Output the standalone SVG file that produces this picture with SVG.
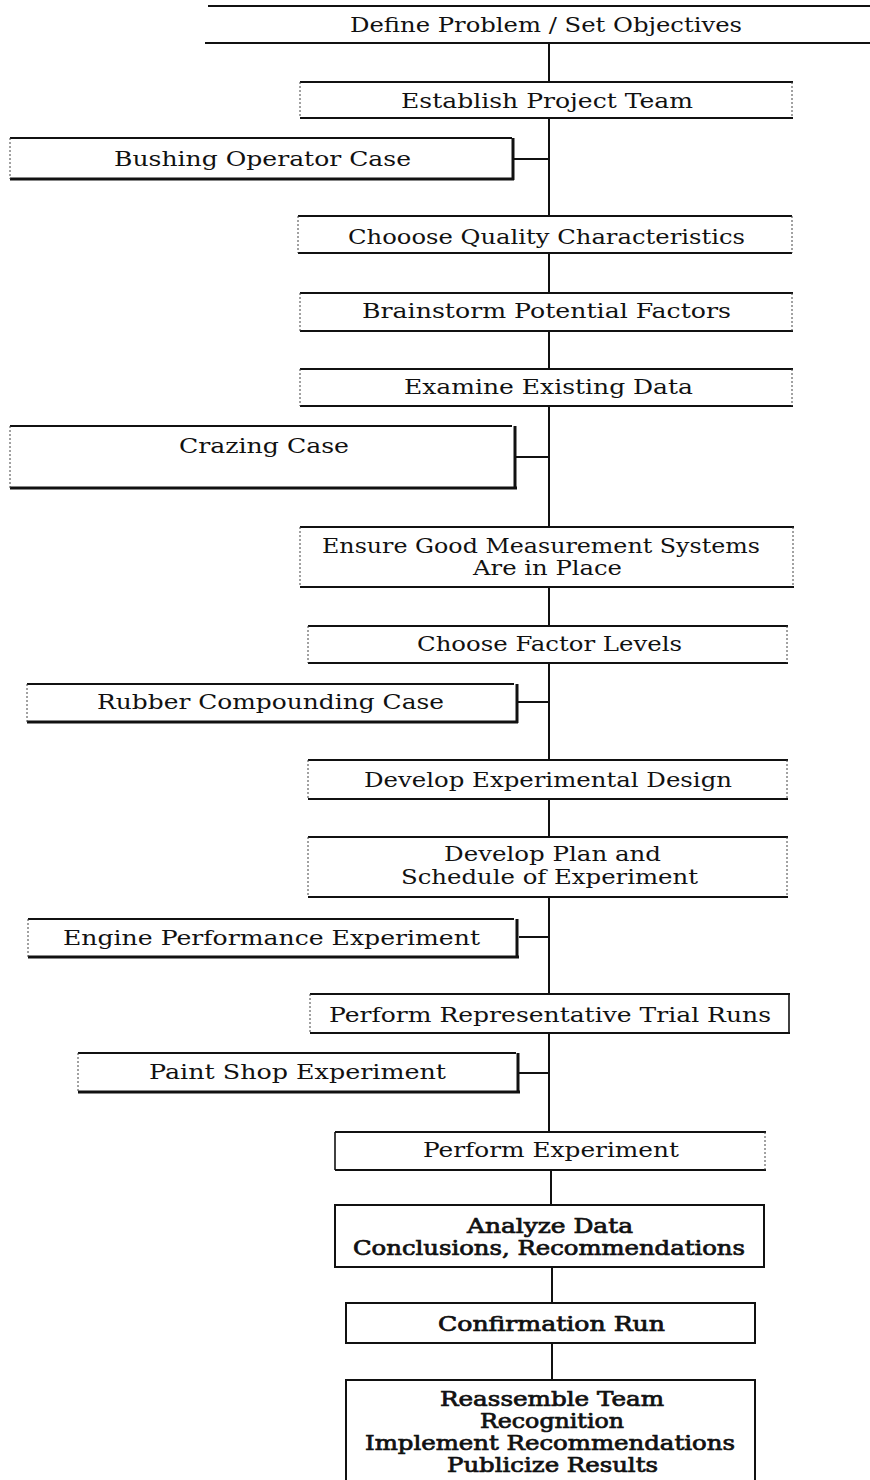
<svg xmlns="http://www.w3.org/2000/svg" width="870" height="1480" viewBox="0 0 870 1480">
<style>
.t{font-family:"DejaVu Serif","Liberation Serif",serif;font-size:19.5px;fill:#111}
.b{stroke:#111;stroke-width:0.7}
.h{stroke:#111;stroke-width:2;fill:none}
.hk{stroke:#111;stroke-width:3;fill:none}
.s{stroke:#444;stroke-width:1;stroke-dasharray:2 2;fill:none}
.ss{stroke:#111;stroke-width:1.6;fill:none}
.c{stroke:#111;stroke-width:2;fill:none}
</style>
<rect width="870" height="1480" fill="#fff"/>

<g id="connectors">
<line class="c" x1="549" y1="43" x2="549" y2="82"/>
<line class="c" x1="549" y1="118" x2="549" y2="216"/>
<line class="c" x1="513" y1="159" x2="549" y2="159"/>
<line class="c" x1="549" y1="253" x2="549" y2="293"/>
<line class="c" x1="549" y1="331" x2="549" y2="369"/>
<line class="c" x1="549" y1="406" x2="549" y2="527"/>
<line class="c" x1="516" y1="457" x2="549" y2="457"/>
<line class="c" x1="549" y1="587" x2="549" y2="626"/>
<line class="c" x1="549" y1="663" x2="549" y2="760"/>
<line class="c" x1="518" y1="702" x2="549" y2="702"/>
<line class="c" x1="549" y1="799" x2="549" y2="837"/>
<line class="c" x1="549" y1="897" x2="549" y2="994"/>
<line class="c" x1="519" y1="937" x2="549" y2="937"/>
<line class="c" x1="549" y1="1033" x2="549" y2="1132"/>
<line class="c" x1="519" y1="1073" x2="549" y2="1073"/>
<line class="c" x1="551" y1="1170" x2="551" y2="1205"/>
<line class="c" x1="552" y1="1267" x2="552" y2="1303"/>
<line class="c" x1="552" y1="1343" x2="552" y2="1380"/>
</g>

<g id="define">
<line class="h" x1="208" y1="6" x2="870" y2="6"/>
<line class="h" x1="205" y1="43" x2="870" y2="43"/>
<text class="t" x="350" y="32" textLength="392" lengthAdjust="spacingAndGlyphs">Define Problem / Set Objectives</text>
</g>

<g id="establish">
<line class="h" x1="300" y1="82" x2="793" y2="82"/>
<line class="h" x1="300" y1="118" x2="793" y2="118"/>
<line class="s" x1="300" y1="82" x2="300" y2="118"/>
<line class="s" x1="792" y1="82" x2="792" y2="118"/>
<text class="t" x="401" y="108" textLength="292" lengthAdjust="spacingAndGlyphs">Establish Project Team</text>
</g>

<g id="bushing">
<line class="h" x1="10" y1="138" x2="512" y2="138"/>
<line class="hk" x1="10" y1="179" x2="514" y2="179"/>
<line class="hk" x1="513" y1="138" x2="513" y2="180"/>
<line class="s" x1="10" y1="138" x2="10" y2="179"/>
<text class="t" x="114" y="166" textLength="297" lengthAdjust="spacingAndGlyphs">Bushing Operator Case</text>
</g>

<g id="quality">
<line class="h" x1="298" y1="216" x2="792" y2="216"/>
<line class="h" x1="298" y1="253" x2="792" y2="253"/>
<line class="s" x1="298" y1="216" x2="298" y2="253"/>
<line class="s" x1="792" y1="216" x2="792" y2="253"/>
<text class="t" x="348" y="244" textLength="397" lengthAdjust="spacingAndGlyphs">Chooose Quality Characteristics</text>
</g>

<g id="brainstorm">
<line class="h" x1="300" y1="293" x2="793" y2="293"/>
<line class="h" x1="300" y1="331" x2="793" y2="331"/>
<line class="s" x1="300" y1="293" x2="300" y2="331"/>
<line class="s" x1="792" y1="293" x2="792" y2="331"/>
<text class="t" x="362" y="318" textLength="369" lengthAdjust="spacingAndGlyphs">Brainstorm Potential Factors</text>
</g>

<g id="examine">
<line class="h" x1="300" y1="369" x2="793" y2="369"/>
<line class="h" x1="300" y1="406" x2="793" y2="406"/>
<line class="s" x1="300" y1="369" x2="300" y2="406"/>
<line class="s" x1="792" y1="369" x2="792" y2="406"/>
<text class="t" x="404" y="394" textLength="289" lengthAdjust="spacingAndGlyphs">Examine Existing Data</text>
</g>

<g id="crazing">
<line class="h" x1="10" y1="426" x2="512" y2="426"/>
<line class="hk" x1="10" y1="488" x2="517" y2="488"/>
<line class="hk" x1="515" y1="426" x2="515" y2="489"/>
<line class="s" x1="10" y1="426" x2="10" y2="488"/>
<text class="t" x="179" y="453" textLength="170" lengthAdjust="spacingAndGlyphs">Crazing Case</text>
</g>

<g id="ensure">
<line class="h" x1="300" y1="527" x2="794" y2="527"/>
<line class="h" x1="300" y1="587" x2="794" y2="587"/>
<line class="s" x1="300" y1="527" x2="300" y2="587"/>
<line class="s" x1="793" y1="527" x2="793" y2="587"/>
<text class="t" x="322" y="553" textLength="438" lengthAdjust="spacingAndGlyphs">Ensure Good Measurement Systems</text>
<text class="t" x="473" y="575" textLength="149" lengthAdjust="spacingAndGlyphs">Are in Place</text>
</g>

<g id="factor">
<line class="h" x1="308" y1="626" x2="788" y2="626"/>
<line class="h" x1="308" y1="663" x2="788" y2="663"/>
<line class="s" x1="308" y1="626" x2="308" y2="663"/>
<line class="s" x1="787" y1="626" x2="787" y2="663"/>
<text class="t" x="417" y="651" textLength="265" lengthAdjust="spacingAndGlyphs">Choose Factor Levels</text>
</g>

<g id="rubber">
<line class="h" x1="27" y1="684" x2="514" y2="684"/>
<line class="hk" x1="27" y1="722" x2="518" y2="722"/>
<line class="hk" x1="517" y1="684" x2="517" y2="723"/>
<line class="s" x1="27" y1="684" x2="27" y2="722"/>
<text class="t" x="97" y="709" textLength="347" lengthAdjust="spacingAndGlyphs">Rubber Compounding Case</text>
</g>

<g id="design">
<line class="h" x1="308" y1="760" x2="788" y2="760"/>
<line class="h" x1="308" y1="799" x2="788" y2="799"/>
<line class="s" x1="308" y1="760" x2="308" y2="799"/>
<line class="s" x1="787" y1="760" x2="787" y2="799"/>
<text class="t" x="364" y="787" textLength="368" lengthAdjust="spacingAndGlyphs">Develop Experimental Design</text>
</g>

<g id="plan">
<line class="h" x1="308" y1="837" x2="788" y2="837"/>
<line class="h" x1="308" y1="897" x2="788" y2="897"/>
<line class="s" x1="308" y1="837" x2="308" y2="897"/>
<line class="s" x1="787" y1="837" x2="787" y2="897"/>
<text class="t" x="444" y="861" textLength="217" lengthAdjust="spacingAndGlyphs">Develop Plan and</text>
<text class="t" x="401" y="884" textLength="297" lengthAdjust="spacingAndGlyphs">Schedule of Experiment</text>
</g>

<g id="engine">
<line class="h" x1="28" y1="919" x2="514" y2="919"/>
<line class="hk" x1="28" y1="957" x2="519" y2="957"/>
<line class="hk" x1="517" y1="919" x2="517" y2="958"/>
<line class="s" x1="28" y1="919" x2="28" y2="957"/>
<text class="t" x="63" y="945" textLength="417" lengthAdjust="spacingAndGlyphs">Engine Performance Experiment</text>
</g>

<g id="trial">
<line class="h" x1="310" y1="994" x2="790" y2="994"/>
<line class="h" x1="310" y1="1033" x2="790" y2="1033"/>
<line class="s" x1="310" y1="994" x2="310" y2="1033"/>
<line class="ss" x1="789" y1="994" x2="789" y2="1033"/>
<text class="t" x="329" y="1022" textLength="442" lengthAdjust="spacingAndGlyphs">Perform Representative Trial Runs</text>
</g>

<g id="paint">
<line class="h" x1="78" y1="1053" x2="516" y2="1053"/>
<line class="hk" x1="78" y1="1092" x2="520" y2="1092"/>
<line class="hk" x1="518" y1="1053" x2="518" y2="1093"/>
<line class="s" x1="78" y1="1053" x2="78" y2="1092"/>
<text class="t" x="149" y="1079" textLength="297" lengthAdjust="spacingAndGlyphs">Paint Shop Experiment</text>
</g>

<g id="perform">
<line class="h" x1="335" y1="1132" x2="766" y2="1132"/>
<line class="h" x1="335" y1="1170" x2="766" y2="1170"/>
<line class="ss" x1="335" y1="1132" x2="335" y2="1170"/>
<line class="s" x1="765" y1="1132" x2="765" y2="1170"/>
<text class="t" x="423" y="1157" textLength="256" lengthAdjust="spacingAndGlyphs">Perform Experiment</text>
</g>

<g id="analyze">
<rect class="h" x="335" y="1205" width="429" height="62"/>
<text class="t b" x="467" y="1233" textLength="166" lengthAdjust="spacingAndGlyphs">Analyze Data</text>
<text class="t b" x="353" y="1255" textLength="392" lengthAdjust="spacingAndGlyphs">Conclusions, Recommendations</text>
</g>

<g id="confirm">
<rect class="h" x="346" y="1303" width="409" height="40"/>
<text class="t b" x="438" y="1331" textLength="227" lengthAdjust="spacingAndGlyphs">Confirmation Run</text>
</g>

<g id="reassemble">
<path class="h" d="M346 1482 V1380 H755 V1482"/>
<text class="t b" x="440" y="1406" textLength="224" lengthAdjust="spacingAndGlyphs">Reassemble Team</text>
<text class="t b" x="480" y="1428" textLength="144" lengthAdjust="spacingAndGlyphs">Recognition</text>
<text class="t b" x="365" y="1450" textLength="370" lengthAdjust="spacingAndGlyphs">Implement Recommendations</text>
<text class="t b" x="447" y="1472" textLength="211" lengthAdjust="spacingAndGlyphs">Publicize Results</text>
</g>
</svg>
